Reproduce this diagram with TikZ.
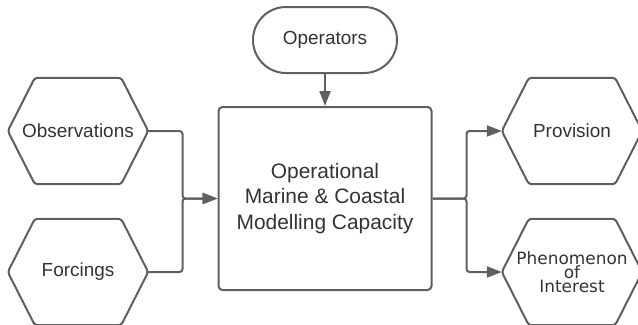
\documentclass[tikz,border=0pt]{standalone}
\usetikzlibrary{positioning, arrows.meta}
\usepackage{fontspec}
\setmainfont{Liberation Sans}
\newfontfamily\dejavu{DejaVu Sans}
\definecolor{LineGray}{HTML}{5F5F5F}
\definecolor{TextGray}{HTML}{333333}

\begin{document}
\begin{tikzpicture}[x=1bp, y=-1bp,
    hexbox/.style={minimum width=140bp, minimum height=106bp, inner sep=0pt, text=TextGray, align=center, font=\fontsize{19}{23}\selectfont},
    conn/.style={draw=LineGray, line width=2bp, rounded corners=3bp},
    arr/.style={conn, -{Triangle[length=15bp, width=11bp]}}]
    \useasboundingbox (0,0) rectangle (638,324);
    \clip (0,0) rectangle (638,324);

    \node[draw=LineGray, line width=2bp, rounded corners=4bp, minimum width=213bp, minimum height=183bp, text=TextGray, align=center, font=\fontsize{21}{26}\selectfont] (mmc) at (325,198.5) {Operational\\Marine \& Coastal\\Modelling Capacity};
    \node[draw=LineGray, line width=2bp, rounded corners=33bp, minimum width=144bp, minimum height=66bp, text=TextGray, font=\fontsize{19}{23}\selectfont] (ops) at (325,40) {Operators};

    \node[hexbox] (obs) at (78,131) {Observations};
    \node[hexbox] (frc) at (78,272) {Forcings};
    \node[hexbox] (prv) at (572,131) {Provision};
    \node[hexbox, font=\dejavu\fontsize{17}{14}\selectfont] (phi) at (572,272) {Phenomenon\\of\\Interest};

    \foreach \h in {obs, frc, prv, phi}
        \draw[conn] (\h.west) -- ([xshift=27bp]\h.north west) -- ([xshift=-27bp]\h.north east) -- (\h.east) -- ([xshift=-27bp]\h.south east) -- ([xshift=27bp]\h.south west) -- cycle;

    \coordinate[left=35bp of mmc.west] (mrg);
    \coordinate[right=34bp of mmc.east] (spl);

    \draw[arr] (ops) -- (mmc);
    \draw[arr] (obs.east) -| (mrg) -- (mmc.west);
    \draw[arr] (frc.east) -| (mrg) -- (mmc.west);
    \draw[arr] (mmc.east) -- (spl) |- (prv.west);
    \draw[arr] (mmc.east) -- (spl) |- (phi.west);
\end{tikzpicture}
\end{document}
